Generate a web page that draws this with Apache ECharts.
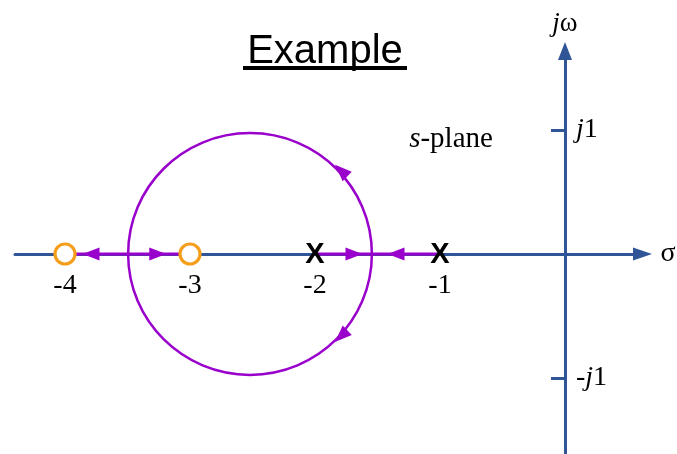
<!DOCTYPE html>
<html><head><meta charset="utf-8">
<script src="https://cdn.jsdelivr.net/npm/echarts@6/dist/echarts.min.js"></script>
<style>html,body{margin:0;padding:0;background:#fff}#c{width:677px;height:454px}</style>
</head><body><div id="c"></div>
<script>
// ---- data ----
const realTickValues = [-4, -3, -2, -1];
const imagTickValues = [-1, 1];
const zeros = [[-4, 0], [-3, 0]];
const poles = [[-2, 0], [-1, 0]];
const realLocusSegments = [[-4, -3], [-2, -1]];          // [from, to] on real axis
const locusCircle = [[-2.52, 0, 0.975]];                   // centre re, centre im, radius
const arrowHeads = [                                       // tip re, tip im, direction (deg)
  [-3.86, 0, 180], [-3.19, 0, 0], [-1.62, 0, 0], [-1.42, 0, 180],
  [-1.84, 0.72, 136], [-1.84, -0.71, -136]
];
const titleText = 'Example';
const planeText = '{i|s}-plane';

// ---- layout / styles ----
const W = 677, H = 454;
const GRID = { left: 15, right: 34.5, top: 51, bottom: 0 };
const X_RANGE = [-4.4, 0.62], Y_RANGE = [-1.613, 1.637];
const gridW = W - GRID.left - GRID.right, gridH = H - GRID.top - GRID.bottom;
// put the axes through the origin (shift from the grid edges)
const yAxisOffset = -((0 - X_RANGE[0]) / (X_RANGE[1] - X_RANGE[0]) * gridW);
const xAxisOffset = -((0 - Y_RANGE[0]) / (Y_RANGE[1] - Y_RANGE[0]) * gridH);

const BLUE = '#2F5597';
const PURPLE = '#9A00CC';
const ORANGE = '#F59E1B';
const SERIF = '"Liberation Serif", "Times New Roman", serif';
const SANS = '"Liberation Sans", Arial, sans-serif';

const chart = echarts.init(document.getElementById('c'));
chart.setOption({
  animation: false,
  backgroundColor: '#fff',
  grid: Object.assign({ containLabel: false, outerBoundsMode: 'none' }, GRID),
  xAxis: {
    type: 'value', min: X_RANGE[0], max: X_RANGE[1], position: 'bottom', offset: xAxisOffset,
    splitLine: { show: false },
    axisLine: { onZero: false, lineStyle: { color: BLUE, width: 3 }, symbol: ['none', 'triangle'], symbolSize: [13, 19] },
    axisTick: { show: false },
    axisLabel: { customValues: realTickValues, fontFamily: SERIF, fontSize: 28, color: '#000', margin: 18 },
    name: 'σ', nameLocation: 'end', nameGap: 18,
    nameTextStyle: { fontFamily: SERIF, fontSize: 28, color: '#000', verticalAlign: 'middle' }
  },
  yAxis: {
    type: 'value', min: Y_RANGE[0], max: Y_RANGE[1], position: 'left', offset: yAxisOffset,
    splitLine: { show: false },
    axisLine: { onZero: false, lineStyle: { color: BLUE, width: 3 }, symbol: ['none', 'triangle'], symbolSize: [14, 18] },
    axisTick: { show: true, customValues: imagTickValues, length: 14, inside: false, lineStyle: { color: BLUE, width: 3 } },
    axisLabel: {
      customValues: imagTickValues, inside: true, margin: 11, color: '#000',
      fontFamily: SERIF, fontSize: 28,
      formatter: v => (v < 0 ? '-' : '') + '{i|j}1',
      rich: { i: { fontStyle: 'italic', fontFamily: SERIF, fontSize: 28, color: '#000' } }
    },
    name: '{i|j}ω', nameLocation: 'end', nameGap: 14,
    nameTextStyle: {
      fontFamily: SERIF, fontSize: 27, color: '#000',
      rich: { i: { fontStyle: 'italic', fontFamily: SERIF, fontSize: 27, color: '#000' } }
    }
  },
  graphic: [
    { type: 'text', x: 325, y: 52, z: 10,
      style: { text: titleText, font: '40px ' + SANS, fill: '#000', align: 'center', verticalAlign: 'middle' } },
    { type: 'rect', shape: { x: 243, y: 66, width: 164, height: 4 }, style: { fill: '#000' } },
    { type: 'text', x: 451, y: 139, z: 10,
      style: { text: planeText, fontFamily: SERIF, fontSize: 29, fill: '#000', align: 'center', verticalAlign: 'middle',
        rich: { i: { fontStyle: 'italic', fontFamily: SERIF, fontSize: 29, fill: '#000' } } } }
  ],
  series: [
    {
      type: 'custom', z: 2, data: realLocusSegments, encode: { x: [0, 1] },
      renderItem: (params, api) => {
        const p1 = api.coord([api.value(0), 0]);
        const p2 = api.coord([api.value(1), 0]);
        return { type: 'line', shape: { x1: p1[0], y1: p1[1], x2: p2[0], y2: p2[1] },
          style: { stroke: PURPLE, lineWidth: 3 } };
      }
    },
    {
      type: 'custom', z: 2, data: locusCircle, encode: { x: 0, y: 1 },
      renderItem: (params, api) => {
        const c = api.coord([api.value(0), api.value(1)]);
        const s = api.size([api.value(2), api.value(2)]);
        return { type: 'ellipse', shape: { cx: c[0], cy: c[1], rx: s[0], ry: s[1] },
          style: { fill: 'none', stroke: PURPLE, lineWidth: 2.5 } };
      }
    },
    {
      type: 'custom', z: 3, data: arrowHeads, encode: { x: 0, y: 1 },
      renderItem: (params, api) => {
        const tip = api.coord([api.value(0), api.value(1)]);
        const a = api.value(2) * Math.PI / 180;
        const dx = Math.cos(a), dy = -Math.sin(a);
        const L = 17, HW = 6.5;
        const bx = tip[0] - dx * L, by = tip[1] - dy * L;
        const px = -dy, py = dx;
        return { type: 'polygon',
          shape: { points: [[tip[0], tip[1]], [bx + px * HW, by + py * HW], [bx - px * HW, by - py * HW]] },
          style: { fill: PURPLE } };
      }
    },
    {
      type: 'scatter', z: 4, data: zeros, symbol: 'circle', symbolSize: 20,
      itemStyle: { color: '#fff', borderColor: ORANGE, borderWidth: 3.2, opacity: 1 }
    },
    {
      type: 'custom', z: 5, data: poles, encode: { x: 0, y: 1 },
      renderItem: (params, api) => {
        const p = api.coord([api.value(0), api.value(1)]);
        return { type: 'text', x: p[0], y: p[1] + 1,
          style: { text: 'X', font: 'bold 29px ' + SANS, fill: '#000', align: 'center', verticalAlign: 'middle' } };
      }
    }
  ]
});
</script></body></html>
